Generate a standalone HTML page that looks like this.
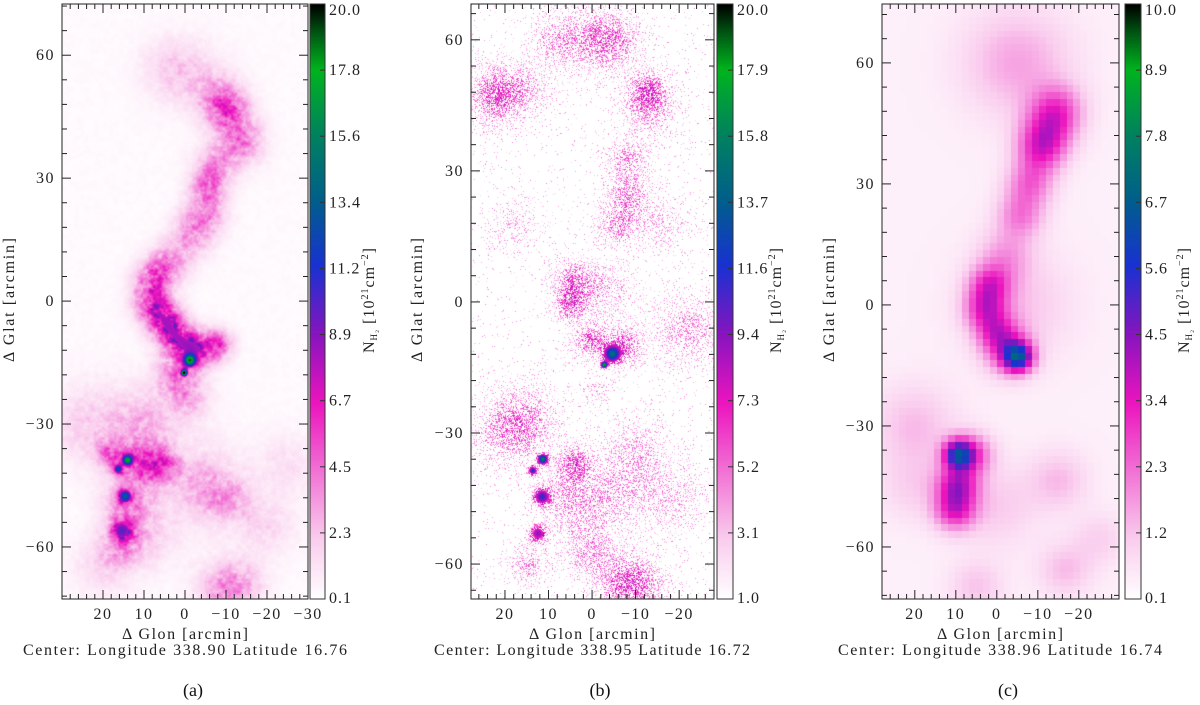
<!DOCTYPE html>
<html><head><meta charset="utf-8">
<style>
body{margin:0;width:1200px;height:705px;background:#fff;position:relative;overflow:hidden;font-family:"Liberation Serif",serif;}
canvas{position:absolute;display:block;}
svg{position:absolute;left:0;top:0;}
</style></head>
<body>
<canvas id="ca"></canvas>
<canvas id="cb"></canvas>
<canvas id="cc"></canvas>
<canvas id="cba"></canvas>
<canvas id="cbb"></canvas>
<canvas id="cbc"></canvas>
<svg id="ov" width="1200" height="705"></svg>
<script>
// ---- Panel (a) clump data: [lon offset, lat offset] arcmin, peak column density, width arcmin
const A_lon  =[3.7,-2,-10.5,-8,-14.6,-12,-7.3,-5.6,-4.9,-1.7,3,6,8.5,8,5,3.7,1,-1.2,0.2,-3,-8,2,-1,14,16.3,14.6,15.4,6,18,12,14,16,-11,-5,11,-13.4,-8,10,25,-25,20,-20,0,15];
const A_lat  =[57,55,47,50,38,42,33,27.6,21,16,10,7.5,4,-1,-4,-7,-10,-14.5,-17.5,-12,-10.7,-18,-24,-38.8,-41,-47.6,-56,-40,-37.5,-40,-50,-60,-48.5,-45,-58,-69,-70,-30,-30,-40,-65,-55,-45,-30];
const A_peak =[1.2,1.0,3.2,2,2.5,2,2.8,3.2,2.8,2.5,2,3.2,3,4.5,3.8,3.8,4.2,13,18,5.5,4.5,3.5,2,13,9,10,6.5,4.5,3.5,3.5,3,2,2,1.5,1.5,2.5,2,1.5,1.2,1,1.2,1.2,1.0,1.0];
const A_width=[5,6,3.5,4,3.5,4,3.5,3,3.5,3.5,3.5,3,3,3,3,3,3,1.0,0.5,3,2.5,3.5,3.5,0.8,0.7,1.1,1.8,3,2.5,3.5,4,3.5,4,5,5,4,4,5,6,5,5,5,10,8];
// ---- Panel (b)
const B_lon  =[0,8,-5,22,22,15,-12.9,-13,-8.3,-8.3,-5.7,-15,18,4.4,5,-3,0.5,-4.6,-2.8,-7,-22,-1,11.3,13.6,11.5,12.4,3.9,15.4,20,5,-11,-6,0.5,15,-10,-18,-5];
const B_lat  =[60,60,60,49,45,49,48.5,44,32.5,24.5,17.6,18,18,5,-0.7,3,-8.7,-12,-14.4,-10,-6.4,-20,-36,-38.6,-44.6,-53,-37,-27,-30,-45,-64.8,-64,-56.8,-60,-35,-45,-45];
const B_peak =[2.2,2.2,2.6,2.6,2.2,1.8,3.8,2.6,3,3.3,3,1.8,1.4,3.5,4.2,2.2,4.2,11,16,4.2,2.6,1.8,14,10,9,8,4.2,2.6,2.2,2.6,3.3,2.6,2.6,2.6,2.2,1.8,1.8];
const B_width=[5,4,4,4,4,4,3,4,3,3,3,4,4,3,2.5,4,2.5,1.3,0.5,3,5,2,0.8,0.7,1.3,1.3,2.5,5,5,5,4,4,4,3,5,5,5];
// ---- Panel (c)
const C_lon  =[-14.6,-12,-10.5,-8,-5.6,-2,1.7,3,0,-5.1,-3,9.5,6,9.5,10.2,-5,-5,-16.6,-15,20,-25,5,0,20];
const C_lat  =[48,42,38,30,22,12,5,-1,-7,-12.9,-12,-37,-37,-44.6,-51,0,60,-65.7,-43.4,-30,-58,-70,-50,-45];
const C_peak =[2.2,1.8,1.8,1.8,1.6,1.1,2.2,2.2,2.2,4.6,1.8,4.4,2.2,3.0,2.6,0.8,1.2,0.9,0.9,0.9,0.6,0.8,0.7,0.6];
const C_width=[4.5,4.5,4,4,4,4.5,3.5,3.5,3.5,2.5,4,2.5,3.5,3.5,3.5,9,9,4.5,5,7,4.5,4.5,7,6];
// ---- Colorbar tick labels
const A_cbLabels=["0.1","2.3","4.5","6.7","8.9","11.2","13.4","15.6","17.8","20.0"];
const B_cbLabels=["1.0","3.1","5.2","7.3","9.4","11.6","13.7","15.8","17.9","20.0"];
const C_cbLabels=["0.1","1.2","2.3","3.4","4.5","5.6","6.7","7.8","8.9","10.0"];
const A_xticks=[20,10,0,-10,-20,-30];
const B_xticks=[20,10,0,-10,-20];
const C_xticks=[20,10,0,-10,-20];
const yticks=[60,30,0,-30,-60];

const stops=[[0,[255,255,255]],[0.1,[250,205,238]],[0.22,[242,110,212]],[0.33,[236,20,190]],[0.44,[140,20,190]],[0.56,[25,50,210]],[0.67,[0,95,140]],[0.78,[0,130,95]],[0.89,[0,180,30]],[0.95,[0,90,20]],[1,[0,0,0]]];
function cmap(t){t=Math.max(0,Math.min(1,t));for(let i=1;i<stops.length;i++){if(t<=stops[i][0]){const a=stops[i-1],b=stops[i];const f=(t-a[0])/(b[0]-a[0]);return [0,1,2].map(k=>a[1][k]+(b[1][k]-a[1][k])*f);}}return [0,0,0];}
function hash(x,y,s){let h=(x*374761393+y*668265263+s*982451653)|0;h=(h^(h>>>13))*1274126177|0;return ((h^(h>>>16))>>>0)/4294967296;}
function vnoise(x,y,s){const ix=Math.floor(x),iy=Math.floor(y),fx=x-ix,fy=y-iy;const a=hash(ix,iy,s),b=hash(ix+1,iy,s),c=hash(ix,iy+1,s),d=hash(ix+1,iy+1,s);const ux=fx*fx*(3-2*fx),uy=fy*fy*(3-2*fy);return a+(b-a)*ux+(c-a)*uy+(a-b-c+d)*ux*uy;}
function field(lon,lat,L,T,P,W,bg){let v=bg;for(let i=0;i<L.length;i++){const dx=lon-L[i],dy=lat-T[i];v+=P[i]*Math.exp(-(dx*dx+dy*dy)/(2*W[i]*W[i]));}return v;}

const panels=[
 {id:'a',cv:'ca',cb:'cba',box:[62,4,308,599],lon:[30,-30],lat:[72.5,-72.7],L:A_lon,T:A_lat,P:A_peak,W:A_width,vmin:0.1,vmax:20,bg:0.3,mode:'smooth',cbx:[310,325],labels:A_cbLabels,xt:A_xticks,lab:'(a)',center:'Center:  Longitude 338.90 Latitude 16.76',cx:185,cw:324,gx:185,ylabx:14,cblx:374},
 {id:'b',cv:'cb',cb:'cbb',box:[471,4,714,599],lon:[27.8,-28],lat:[68.2,-68],L:B_lon,T:B_lat,P:B_peak,W:B_width,vmin:1,vmax:20,bg:1.0,mode:'speckle',cbx:[717,733],labels:B_cbLabels,xt:B_xticks,lab:'(b)',center:'Center: Longitude 338.95 Latitude 16.72',cx:592,cw:316,gx:592,ylabx:422,cblx:781},
 {id:'c',cv:'cc',cb:'cbc',box:[882,4,1119,599],lon:[28,-29.8],lat:[74.6,-72.9],L:C_lon,T:C_lat,P:C_peak,W:C_width,vmin:0.1,vmax:10,bg:0.4,mode:'block',cbx:[1125,1141],labels:C_cbLabels,xt:C_xticks,lab:'(c)',center:'Center:  Longitude 338.96 Latitude 16.74',cx:1000,cw:324,gx:1000,ylabx:834,cblx:1189}
];
const ov=document.getElementById('ov');const NS='http://www.w3.org/2000/svg';
function mk(tag,attrs,txt){const e=document.createElementNS(NS,tag);for(const k in attrs)e.setAttribute(k,attrs[k]);if(txt!==undefined)e.textContent=txt;ov.appendChild(e);return e;}

panels.forEach(p=>{
 const [x0,y0,x1,y1]=p.box,w=x1-x0,h=y1-y0;
 const xs=v=>x0+(p.lon[0]-v)/(p.lon[0]-p.lon[1])*w;
 const ys=v=>y0+(p.lat[0]-v)/(p.lat[0]-p.lat[1])*h;
 const cv=document.getElementById(p.cv);cv.width=w;cv.height=h;cv.style.left=x0+'px';cv.style.top=y0+'px';
 const ctx=cv.getContext('2d');const img=ctx.createImageData(w,h);
 const cell=1.7;
 for(let j=0;j<h;j++)for(let i=0;i<w;i++){
  let lon=p.lon[0]-(i+0.5)/w*(p.lon[0]-p.lon[1]);let lat=p.lat[0]-(j+0.5)/h*(p.lat[0]-p.lat[1]);
  let col;
  if(p.mode==='block'){lon=(Math.floor(lon/cell)+0.5)*cell;lat=(Math.floor(lat/cell)+0.5)*cell;
   const v=field(lon,lat,p.L,p.T,p.P,p.W,p.bg);col=cmap((v-p.vmin)/(p.vmax-p.vmin));}
  else if(p.mode==='smooth'){let v=field(lon,lat,p.L,p.T,p.P,p.W,p.bg);
   const n=0.6*vnoise(lon/1.2,lat/1.2,1)+0.4*vnoise(lon/0.5,lat/0.5,2);
   if(v<8)v=v*(0.55+0.9*n);col=cmap((v-p.vmin)/(p.vmax-p.vmin));}
  else{const v=field(lon,lat,p.L,p.T,p.P,p.W,p.bg);const r=hash(i,j,7),r2=hash(i,j,11);
   const pr=Math.min(1,0.02+(v-1)/3.5*0.5);
   if(v>7||r<pr){const vv=v>7?v:(1+(Math.max(v,2.2)+1.0)*(0.4+0.8*r2));col=cmap((vv-p.vmin)/(p.vmax-p.vmin));}else col=[255,255,255];}
  const k=(j*w+i)*4;img.data[k]=col[0];img.data[k+1]=col[1];img.data[k+2]=col[2];img.data[k+3]=255;}
 ctx.putImageData(img,0,0);
 // colorbar
 const cb=document.getElementById(p.cb);const cw=p.cbx[1]-p.cbx[0];cb.width=cw;cb.height=h;cb.style.left=p.cbx[0]+'px';cb.style.top=y0+'px';
 const c2=cb.getContext('2d');for(let j=0;j<h;j++){const c=cmap(1-j/(h-1));c2.fillStyle=`rgb(${c[0]|0},${c[1]|0},${c[2]|0})`;c2.fillRect(0,j,cw,1);}
 const cf=mk('rect',{x:p.cbx[0],y:y0,width:cw,height:h,fill:'none',stroke:'#333','stroke-width':1});
 
 p.labels.forEach((l,i)=>{const yy=y1-i/(p.labels.length-1)*h;
  mk('line',{x1:p.cbx[1]-5,x2:p.cbx[1],y1:yy,y2:yy,stroke:'#333'});
  const t=mk('text',{x:p.cbx[1]+4,y:Math.min(Math.max(yy+5,y0+11),y1+4),'font-size':16,'letter-spacing':1,fill:'#222'},l);
  });
 const cl=mk('text',{x:p.cblx,y:300,'font-size':16,'letter-spacing':1,fill:'#222','text-anchor':'middle',transform:`rotate(-90 ${p.cblx} 300)`});
 
 cl.innerHTML='N<tspan font-size="9" dy="3">H₂</tspan><tspan dy="-3"> [10</tspan><tspan font-size="10" dy="-6">21</tspan><tspan dy="6">cm</tspan><tspan font-size="10" dy="-6">−2</tspan><tspan dy="6">]</tspan>';
 // frame
 const fr=mk('rect',{x:x0,y:y0,width:w,height:h,fill:'none',stroke:'#222','stroke-width':1});
 
 for(let v=-30;v<=30;v+=2){const xx=xs(v);if(xx<x0-0.5||xx>x1+0.5)continue;const maj=v%10===0;const L=maj?9:5;
  mk('line',{x1:xx,x2:xx,y1:y1,y2:y1-L,stroke:'#222'});mk('line',{x1:xx,x2:xx,y1:y0,y2:y0+L,stroke:'#222'});}
 p.xt.forEach(v=>{const t=mk('text',{x:xs(v),y:y1+20,'font-size':16,'letter-spacing':1.5,fill:'#222','text-anchor':'middle'},v<0?'−'+(-v):String(v));
  });
 for(let v=-72;v<=72;v+=6){const yy=ys(v);if(yy<y0-0.5||yy>y1+0.5)continue;const maj=v%30===0;const L=maj?9:5;
  mk('line',{x1:x0,x2:x0+L,y1:yy,y2:yy,stroke:'#222'});mk('line',{x1:x1,x2:x1-L,y1:yy,y2:yy,stroke:'#222'});}
 yticks.forEach(v=>{const t=mk('text',{x:x0-7,y:ys(v)+5,'font-size':16,'letter-spacing':1.5,fill:'#222','text-anchor':'end'},v<0?'−'+(-v):String(v));
  });
 const xl=mk('text',{x:p.gx,y:y1+40,'font-size':16,fill:'#222','text-anchor':'middle',textLength:126,lengthAdjust:'spacing'},'Δ Glon [arcmin]');
 
 const ce=mk('text',{x:p.cx,y:y1+56,'font-size':16,fill:'#222','text-anchor':'middle','xml:space':'preserve',textLength:p.cw,lengthAdjust:'spacing'},p.center);
 
 const yl=mk('text',{x:p.ylabx,y:300,'font-size':16,fill:'#222','text-anchor':'middle',textLength:124,lengthAdjust:'spacing',transform:`rotate(-90 ${p.ylabx} 300)`},'Δ Glat [arcmin]');
 
 const lb=mk('text',{x:p.cx+8,y:696,'font-size':18,fill:'#111','text-anchor':'middle'},p.lab);
 
});
</script>
</body></html>
